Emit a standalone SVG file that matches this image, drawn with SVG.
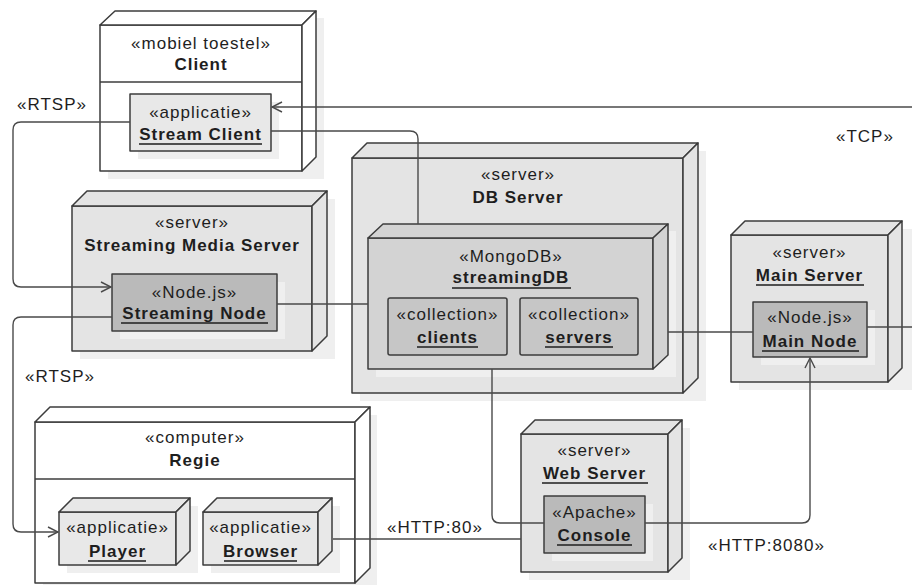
<svg xmlns="http://www.w3.org/2000/svg" width="912" height="585" viewBox="0 0 912 585">
<defs>
<style>
.n{stroke:#3c3c3c;stroke-width:1.5;stroke-linejoin:round}
.w{fill:#ffffff}.s{fill:#e4e4e4}.db{fill:#d3d3d3}.c{fill:#c6c6c6}.nd{fill:#bababa}.a{fill:#e8e8e8}
.sh{fill:#efefef;stroke:none}
text{font-family:"Liberation Sans",Arial,sans-serif;font-size:17px;fill:#1e1e1e;text-anchor:middle;letter-spacing:1px}
.b{font-weight:bold}
.l{text-anchor:start}
.u{stroke:#1e1e1e;stroke-width:1.3}
.e{fill:none;stroke:#4a4a4a;stroke-width:1.4}
</style>
<marker id="ar" viewBox="0 0 12 12" refX="11" refY="6" markerWidth="12" markerHeight="12" markerUnits="userSpaceOnUse" orient="auto">
<path d="M1,1 L11,6 L1,11" fill="none" stroke="#4a4a4a" stroke-width="1.4"/>
</marker>
</defs>
<rect width="912" height="585" fill="#ffffff"/>

<!-- Client -->
<g id="client">
<rect class="sh" x="108" y="18" width="216" height="161"/>
<rect class="n w" x="100" y="25" width="202" height="146"/>
<path class="n w" d="M100,25 L115,11 L316,11 L302,25 Z"/>
<path class="n w" d="M302,25 L316,11 L316,157 L302,171 Z"/>
<line class="n" x1="100" y1="82" x2="302" y2="82"/>
<text x="201" y="49">«mobiel toestel»</text>
<text class="b" x="201" y="70">Client</text>
</g>
<g id="stream-client">
<rect class="sh" x="138" y="102" width="141" height="57"/>
<rect class="n a" x="130" y="94" width="141" height="57"/>
<text x="200.5" y="118">«applicatie»</text>
<text class="b" x="200.5" y="140">Stream Client</text>
<line class="u" x1="139" y1="144" x2="262" y2="144"/>
</g>

<!-- Streaming Media Server -->
<g id="streaming-media-server">
<rect class="sh" x="80" y="199" width="255" height="160"/>
<rect class="n s" x="72" y="206" width="240" height="145"/>
<path class="n s" d="M72,206 L87,191 L327,191 L312,206 Z"/>
<path class="n s" d="M312,206 L327,191 L327,336 L312,351 Z"/>
<text x="192" y="228">«server»</text>
<text class="b" x="192" y="251">Streaming Media Server</text>
</g>
<g id="streaming-node">
<rect class="sh" x="120" y="282" width="165" height="57"/>
<rect class="n nd" x="112" y="274" width="165" height="57"/>
<text x="194.5" y="298">«Node.js»</text>
<text class="b" x="194.5" y="319">Streaming Node</text>
<line class="u" x1="121" y1="323" x2="268" y2="323"/>
</g>

<!-- DB Server -->
<g id="db-server">
<rect class="sh" x="360" y="151" width="346" height="250"/>
<rect class="n s" x="352" y="158" width="331" height="235"/>
<path class="n s" d="M352,158 L367,143 L698,143 L683,158 Z"/>
<path class="n s" d="M683,158 L698,143 L698,378 L683,393 Z"/>
<text x="518" y="180">«server»</text>
<text class="b" x="518" y="203">DB Server</text>
</g>
<g id="streamingdb">
<rect class="sh" x="376" y="231" width="300" height="146"/>
<rect class="n db" x="368" y="238" width="285" height="131"/>
<path class="n db" d="M368,238 L383,224 L668,224 L653,238 Z"/>
<path class="n db" d="M653,238 L668,224 L668,355 L653,369 Z"/>
<text x="511" y="262">«MongoDB»</text>
<text class="b" x="511" y="283">streamingDB</text>
<line class="u" x1="452" y1="288" x2="571" y2="288"/>
</g>
<g id="clients">
<rect class="n c" x="388" y="298" width="119" height="57" rx="2"/>
<text x="447.5" y="320">«collection»</text>
<text class="b" x="447.5" y="343">clients</text>
<line class="u" x1="417" y1="347" x2="478" y2="347"/>
</g>
<g id="servers">
<rect class="n c" x="520" y="298" width="118" height="57" rx="2"/>
<text x="579" y="320">«collection»</text>
<text class="b" x="579" y="343">servers</text>
<line class="u" x1="545" y1="347" x2="613" y2="347"/>
</g>

<!-- Main Server -->
<g id="main-server">
<rect class="sh" x="739" y="229" width="173" height="161"/>
<rect class="n s" x="731" y="235" width="157" height="147"/>
<path class="n s" d="M731,235 L745,221 L902,221 L888,235 Z"/>
<path class="n s" d="M888,235 L902,221 L902,368 L888,382 Z"/>
<text x="809.5" y="258">«server»</text>
<text class="b" x="809.5" y="281">Main Server</text>
<line class="u" x1="756" y1="285" x2="864" y2="285"/>
</g>
<g id="main-node">
<rect class="sh" x="761" y="310" width="114" height="55"/>
<rect class="n nd" x="753" y="302" width="114" height="55"/>
<text x="810" y="323">«Node.js»</text>
<text class="b" x="810" y="347">Main Node</text>
<line class="u" x1="762" y1="351" x2="859" y2="351"/>
</g>

<!-- Web Server -->
<g id="web-server">
<rect class="sh" x="529" y="428" width="161" height="152"/>
<rect class="n s" x="521" y="434" width="147" height="138"/>
<path class="n s" d="M521,434 L535,420 L682,420 L668,434 Z"/>
<path class="n s" d="M668,434 L682,420 L682,558 L668,572 Z"/>
<text x="594.5" y="456">«server»</text>
<text class="b" x="594.5" y="479">Web Server</text>
<line class="u" x1="542" y1="483" x2="648" y2="483"/>
</g>
<g id="console">
<rect class="sh" x="552" y="504" width="101" height="57"/>
<rect class="n nd" x="544" y="496" width="101" height="57"/>
<text x="594.5" y="518">«Apache»</text>
<text class="b" x="594.5" y="541">Console</text>
<line class="u" x1="557" y1="545" x2="632" y2="545"/>
</g>

<!-- Regie -->
<g id="regie">
<rect class="sh" x="43" y="415" width="334" height="176"/>
<rect class="n w" x="35" y="422" width="320" height="161"/>
<path class="n w" d="M35,422 L50,407 L370,407 L355,422 Z"/>
<path class="n w" d="M355,422 L370,407 L370,568 L355,583 Z"/>
<line class="n" x1="35" y1="479" x2="355" y2="479"/>
<text x="195" y="443">«computer»</text>
<text class="b" x="195" y="466">Regie</text>
</g>
<g id="player">
<rect class="sh" x="67" y="506" width="131" height="67"/>
<rect class="n a" x="59" y="512" width="117" height="53"/>
<path class="n a" d="M59,512 L73,498 L190,498 L176,512 Z"/>
<path class="n a" d="M176,512 L190,498 L190,551 L176,565 Z"/>
<text x="117.5" y="533">«applicatie»</text>
<text class="b" x="117.5" y="557">Player</text>
<line class="u" x1="88" y1="561" x2="146" y2="561"/>
</g>
<g id="browser">
<rect class="sh" x="211" y="506" width="129" height="67"/>
<rect class="n a" x="203" y="512" width="115" height="53"/>
<path class="n a" d="M203,512 L217,498 L332,498 L318,512 Z"/>
<path class="n a" d="M318,512 L332,498 L332,551 L318,565 Z"/>
<text x="260.5" y="533">«applicatie»</text>
<text class="b" x="260.5" y="557">Browser</text>
<line class="u" x1="224" y1="561" x2="297" y2="561"/>
</g>

<!-- Connectors -->
<g id="connectors">
<path class="e" d="M130,122 L21,122 Q13,122 13,130 L13,279 Q13,287 21,287 L111,287" marker-end="url(#ar)"/>
<path class="e" d="M271,131 L410,131 Q418,131 418,139 L418,224"/>
<path class="e" d="M912,107 L272,107" marker-end="url(#ar)"/>
<path class="e" d="M277,304 L368,304"/>
<path class="e" d="M112,317 L21,317 Q13,317 13,325 L13,524 Q13,532 21,532 L58,532" marker-end="url(#ar)"/>
<path class="e" d="M668,332 L753,332"/>
<path class="e" d="M867,327 L912,327"/>
<path class="e" d="M492,369 L492,515 Q492,523 500,523 L544,523"/>
<path class="e" d="M645,523 L802,523 Q810,523 810,515 L810,358" marker-end="url(#ar)"/>
<path class="e" d="M333,539 L521,539"/>
<text class="l" x="17" y="110">«RTSP»</text>
<text class="l" x="25" y="382">«RTSP»</text>
<text class="l" x="836" y="142">«TCP»</text>
<text class="l" x="387" y="533">«HTTP:80»</text>
<text class="l" x="708" y="551">«HTTP:8080»</text>
</g>
</svg>
